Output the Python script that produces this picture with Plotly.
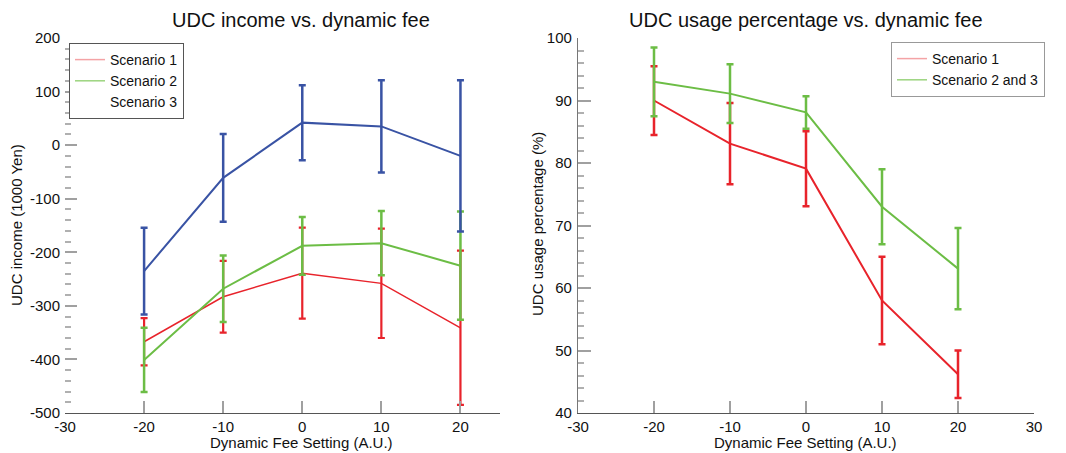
import plotly.graph_objects as go

# ---- data ----
fee = [-20, -10, 0, 10, 20]

income_s1 = [-367, -283, -239, -258, -341]
income_s1_err = [44, 67, 85, 102, 144]
income_s2 = [-401, -268, -188, -183, -225]
income_s2_err = [60, 62, 54, 60, 101]
income_s3 = [-235, -61, 42, 35, -20]
income_s3_err = [81, 82, 70, 86, 141]

usage_s1 = [90, 83.1, 79.1, 58, 46.2]
usage_s1_err = [5.5, 6.5, 6, 7, 3.8]
usage_s23 = [93, 91.1, 88.1, 73, 63.1]
usage_s23_err = [5.5, 4.7, 2.6, 6, 6.5]

left_legend = ["Scenario 1", "Scenario 2", "Scenario 3"]
right_legend = ["Scenario 1", "Scenario 2 and 3"]

x_ticks_left = [-30, -20, -10, 0, 10, 20]
x_ticks_right = [-30, -20, -10, 0, 10, 20, 30]
y_ticks_left = [-500, -400, -300, -200, -100, 0, 100, 200]
y_ticks_right = [40, 50, 60, 70, 80, 90, 100]

RED = "#e8232b"
GREEN = "#6cbd45"
BLUE = "#3953a4"
FONT = "Liberation Sans, Arial, sans-serif"

# the page body has an 8px margin, so the figure is a bit smaller than the window
OFF = 8
W, H = 1066 - OFF, 453 - OFF
fig = go.Figure()


def series(x, y, err, color, lw, ew, xa, ya):
    fig.add_trace(go.Scatter(
        x=x, y=y, mode="lines", xaxis=xa, yaxis=ya, showlegend=False,
        line=dict(color=color, width=lw),
        error_y=dict(type="data", array=err, visible=True, color=color,
                     thickness=ew, width=3.5),
        hoverinfo="x+y"))


# left chart
series(fee, income_s1, income_s1_err, RED, 1.5, 2.2, "x", "y")
series(fee, income_s2, income_s2_err, GREEN, 2, 2.5, "x", "y")
series(fee, income_s3, income_s3_err, BLUE, 2, 2.5, "x", "y")
# right chart
series(fee, usage_s1, usage_s1_err, RED, 2, 2.5, "x2", "y2")
series(fee, usage_s23, usage_s23_err, GREEN, 2, 2.5, "x2", "y2")

# legend-only entries
for name, col in zip(left_legend, ["#f4a3a5", "#9bd47f", "rgba(0,0,0,0)"]):
    fig.add_trace(go.Scatter(x=[None], y=[None], mode="lines", name=name,
                             line=dict(color=col, width=1.5), xaxis="x", yaxis="y",
                             legend="legend"))
for name, col in zip(right_legend, ["#f4a3a5", "#9bd47f"]):
    fig.add_trace(go.Scatter(x=[None], y=[None], mode="lines", name=name,
                             line=dict(color=col, width=1.5), xaxis="x2", yaxis="y2",
                             legend="legend2"))


def px_x(p):
    return (p - OFF) / W


def px_y(p):
    return 1 - (p - OFF) / H


def labels(vals):
    return [str(v) for v in vals]


tickfont = dict(family=FONT, size=15, color="#111")
common_x = dict(ticks="inside", ticklen=12, tickcolor="#a0a0a0", tickwidth=1.5,
                showline=True, linecolor="#555", linewidth=1.2, showgrid=False,
                zeroline=False, tickfont=tickfont, ticklabelstandoff=0,
                automargin=False, tickmode="array")

fig.update_layout(
    width=W, height=H,
    margin=dict(l=0, r=0, t=0, b=0, autoexpand=False),
    paper_bgcolor="white", plot_bgcolor="white",
    font=dict(family=FONT, size=15, color="#111"),
    xaxis=dict(domain=[px_x(65), px_x(500)], range=[-30, 25], tickvals=x_ticks_left,
               ticktext=labels(x_ticks_left), anchor="y", **common_x),
    yaxis=dict(domain=[px_y(413), px_y(38)], range=[-500, 200], tickmode="array",
               tickvals=y_ticks_left, ticktext=labels(y_ticks_left),
               ticks="inside", ticklen=12, tickcolor="#a0a0a0", tickwidth=1.5,
               showline=False, showgrid=False, zeroline=False, tickfont=tickfont,
               ticklabelstandoff=4, anchor="x", automargin=False,
               minor=dict(ticks="inside", ticklen=6, dtick=20, tickcolor="#b0b0b0")),
    xaxis2=dict(domain=[px_x(578), px_x(1034)], range=[-30, 30], tickvals=x_ticks_right,
                ticktext=labels(x_ticks_right), anchor="y2", **common_x),
    yaxis2=dict(domain=[px_y(413), px_y(38)], range=[40, 100], tickmode="array",
                tickvals=y_ticks_right, ticktext=labels(y_ticks_right),
                ticks="inside", ticklen=13, tickcolor="#a0a0a0", tickwidth=1.5,
                showline=True, linecolor="#777", linewidth=1.2, showgrid=False,
                zeroline=False, tickfont=tickfont, ticklabelstandoff=2, anchor="x2",
                automargin=False,
                minor=dict(ticks="inside", ticklen=6, dtick=2, tickcolor="#b0b0b0")),
    legend=dict(x=px_x(69), y=px_y(43), xanchor="left", yanchor="top",
                bordercolor="#555", borderwidth=1, bgcolor="white",
                font=dict(family=FONT, size=14, color="#111"),
                itemwidth=30, tracegroupgap=0),
    legend2=dict(x=px_x(891), y=px_y(42), xanchor="left", yanchor="top",
                 bordercolor="#999", borderwidth=1, bgcolor="white",
                 font=dict(family=FONT, size=14, color="#111"),
                 itemwidth=30, tracegroupgap=0),
)

ann = [
    ("UDC income vs. dynamic fee", 301, 20, 20, 0),
    ("UDC usage percentage vs. dynamic fee", 806, 20, 20, 0),
    ("Dynamic Fee Setting (A.U.)", 301, 442, 15, 0),
    ("Dynamic Fee Setting (A.U.)", 805, 442, 15, 0),
    ("UDC income (1000 Yen)", 16, 225, 15, -90),
    ("UDC usage percentage (%)", 538, 224, 15, -90),
]
for text, ax, ay, fs, ang in ann:
    fig.add_annotation(text=text, x=px_x(ax), y=px_y(ay), xref="paper", yref="paper",
                       xanchor="center", yanchor="middle", showarrow=False,
                       textangle=ang, font=dict(size=fs, family=FONT, color="#111"))

fig.write_html("out.html")
